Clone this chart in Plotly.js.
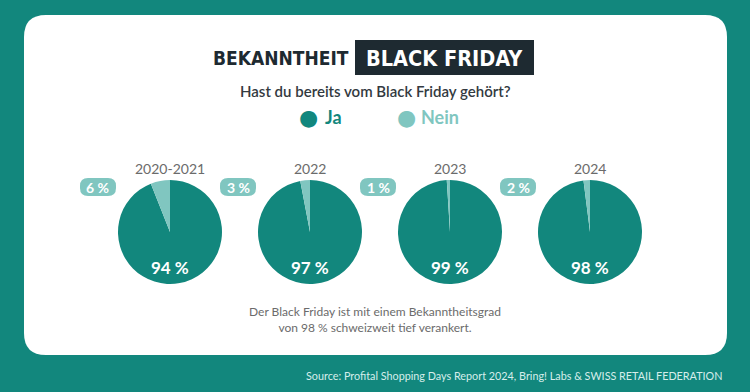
<!DOCTYPE html>
<html><head><meta charset="utf-8">
<script src="https://cdn.plot.ly/plotly-3.0.1.min.js"></script>
<style>html,body{margin:0;padding:0;background:#12877d;}#chart{width:750px;height:392px;}</style>
</head><body><div id="chart"></div>
<script>
const years = ["2020-2021", "2022", "2023", "2024"];
const ja = [94, 97, 99, 98];
const nein = [6, 3, 1, 2];
const seriesNames = ["Ja", "Nein"];

const TEAL = "#12877d", LIGHT = "#80c6c0", DARK = "#1e2a31";
const FONT = "Lato, 'Open Sans', sans-serif";
const TFONT = "'DejaVu Sans Condensed', 'DejaVu Sans', sans-serif";
const W = 750, H = 392;
const centersX = [170, 310, 450, 590], cy = 232, R = 52;

const px = x => x / W, py = y => 1 - y / H;

const data = years.map((yr, i) => ({
  type: "pie",
  values: [ja[i], nein[i]],
  labels: seriesNames,
  sort: false,
  direction: "clockwise",
  rotation: 0,
  textinfo: "none",
  hoverinfo: "label+percent",
  marker: {colors: [TEAL, LIGHT], line: {width: 0}},
  domain: {x: [px(centersX[i] - R), px(centersX[i] + R)], y: [py(cy + R), py(cy - R)]},
  showlegend: false
}));

function A(x, y, text, font, extra) {
  return Object.assign({x: px(x), y: py(y), xref: "paper", yref: "paper", text: text, showarrow: false,
    xanchor: "center", yanchor: "middle", font: font}, extra || {});
}

function roundRect(x0, y0, x1, y1, r) {
  const X = v => px(v), Y = v => py(v);
  return `M ${X(x0 + r)} ${Y(y0)} L ${X(x1 - r)} ${Y(y0)} Q ${X(x1)} ${Y(y0)} ${X(x1)} ${Y(y0 + r)} ` +
         `L ${X(x1)} ${Y(y1 - r)} Q ${X(x1)} ${Y(y1)} ${X(x1 - r)} ${Y(y1)} L ${X(x0 + r)} ${Y(y1)} ` +
         `Q ${X(x0)} ${Y(y1)} ${X(x0)} ${Y(y1 - r)} L ${X(x0)} ${Y(y0 + r)} Q ${X(x0)} ${Y(y0)} ${X(x0 + r)} ${Y(y0)} Z`;
}

const ann = [];
const shapes = [
  {type: "path", xref: "paper", yref: "paper", path: roundRect(24, 15, 727, 355, 22),
   fillcolor: "#ffffff", line: {width: 0}, layer: "below"},
  {type: "rect", xref: "paper", yref: "paper", x0: px(355), x1: px(534), y0: py(75), y1: py(40),
   fillcolor: DARK, line: {width: 0}, layer: "below"}
];

years.forEach((yr, i) => {
  const cx = centersX[i];
  ann.push(A(cx, 168, yr, {family: FONT, size: 14, color: "#6b6b6b"}));
  ann.push(A(cx, 267, ja[i] + " %", {family: FONT, size: 17, color: "#ffffff", weight: 700}));
  const pcx = cx - 72;
  shapes.push({type: "path", xref: "paper", yref: "paper", path: roundRect(pcx - 18, 178, pcx + 18, 196, 8),
    fillcolor: LIGHT, line: {width: 0}, layer: "above"});
  ann.push(A(pcx, 187, nein[i] + " %", {family: FONT, size: 14, color: "#ffffff", weight: 700}));
});
// Title
ann.push(A(281, 58, "BEKANNTHEIT", {family: TFONT, size: 19, color: DARK, weight: 700}));
ann.push(A(444, 58, "BLACK FRIDAY", {family: TFONT, size: 21.5, color: "#ffffff", weight: 700}));
ann.push(A(375, 91, "Hast du bereits vom Black Friday gehört?", {family: FONT, size: 15, color: "#333a3f", weight: 600}));
// Legend
ann.push(A(308, 117, "●", {family: "'DejaVu Sans', sans-serif", size: 22, color: TEAL}));
ann.push(A(323, 117, seriesNames[0], {family: FONT, size: 18, color: TEAL, weight: 700}, {xanchor: "left"}));
ann.push(A(406, 117, "●", {family: "'DejaVu Sans', sans-serif", size: 22, color: LIGHT}));
ann.push(A(419, 117, seriesNames[1], {family: FONT, size: 18, color: LIGHT, weight: 700}, {xanchor: "left"}));
// Footer
ann.push(A(375, 319, "Der Black Friday ist mit einem Bekanntheitsgrad<br>von 98 % schweizweit tief verankert.",
  {family: FONT, size: 12, color: "#6b6b6b"}));
ann.push(A(724, 375, "Source: Profital Shopping Days Report 2024, Bring! Labs & SWISS RETAIL FEDERATION",
  {family: FONT, size: 10.8, color: "#d6eeeb"}, {xanchor: "right"}));

const layout = {
  width: W, height: H,
  margin: {l: 0, r: 0, t: 0, b: 0},
  paper_bgcolor: TEAL,
  plot_bgcolor: TEAL,
  xaxis: {visible: false, range: [0, 1], fixedrange: true},
  yaxis: {visible: false, range: [0, 1], fixedrange: true},
  shapes: shapes,
  annotations: ann
};

Plotly.newPlot("chart", data, layout, {displayModeBar: false, staticPlot: true});
</script>
</body></html>
